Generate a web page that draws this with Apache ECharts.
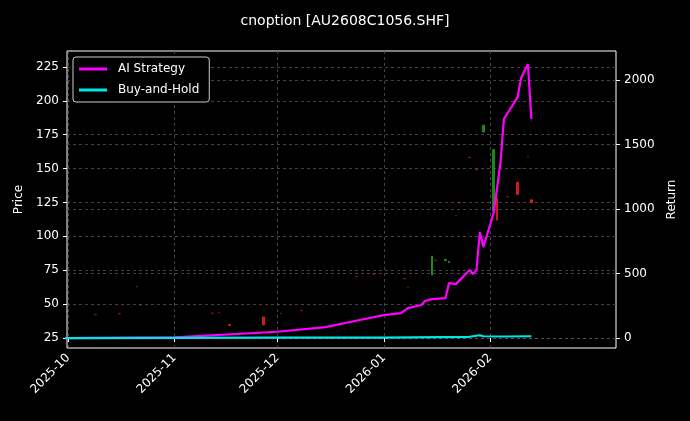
<!DOCTYPE html>
<html><head><meta charset="utf-8">
<script src="https://cdn.jsdelivr.net/npm/echarts@6/dist/echarts.min.js"></script>
<style>html,body{margin:0;background:#000}#c{width:690px;height:421px}</style>
</head><body><div id="c"></div>
<script>
const stratDates=['2025-09-30','2025-11-01','2025-12-01','2025-12-15','2025-12-25','2026-01-01','2026-01-06','2026-01-08','2026-01-12','2026-01-13','2026-01-15','2026-01-19','2026-01-20','2026-01-22','2026-01-26','2026-01-27','2026-01-28','2026-01-29','2026-01-30','2026-02-02','2026-02-04','2026-02-05','2026-02-09','2026-02-10','2026-02-12','2026-02-13'];
const stratValues=[0,5,49,85,140,178,194,232,256,287,302,310,426,418,527,496,527,822,705,969,1357,1698,1868,2015,2124,1698];
const bhDates=['2025-09-30','2025-11-01','2025-12-01','2026-01-01','2026-01-26','2026-01-29','2026-01-30','2026-02-05','2026-02-13'];
const bhValues=[0,2,3,4,10,22,14,12,14];
// visible candles: [date, open, close, low, high]
const candles=[
['2025-11-17',35,34.2,34.2,35],['2025-11-27',40.5,34.6,34.6,40.5],['2026-01-15',71.5,85.5,71.5,85.5],
['2026-01-19',82,83,82,83],['2026-01-20',80.5,81.5,80.5,81.5],['2026-01-30',177,182,177,182],['2026-02-02',119,164,119,164],
['2026-02-03',128,112,112,128],['2026-02-09',140,131,131,140],['2026-02-13',127,125,125,127]];
// faint (dim) candles: [date, open, close, low, high]
const faintCandles=[
['2025-10-09',42.5,42,42,42.5],['2025-10-16',43.2,42.7,42.7,43.2],['2025-10-21',63.2,62.6,62.6,63.2],['2025-10-22',49.6,49,49,49.6],
['2025-11-12',43.5,43,43,43.5],['2025-11-14',44,43.5,43.5,44],['2025-12-02',43.5,43,43,43.5],['2025-12-08',45.5,45,45,45.5],
['2025-12-24',70.5,70,70,70.5],['2025-12-29',72.5,72,72,72.5],['2026-01-07',69,68.5,68.5,69],['2026-01-08',62.5,62,62,62.5],
['2026-01-16',82.5,82,82,82.5],['2026-01-22',115.5,115,115,115.5],['2026-01-23',125.2,124.6,124.6,125.2],['2026-01-26',158.6,158,158,158.6],
['2026-01-28',149.5,149,149,149.5],['2026-02-06',129.5,129,129,129.5],['2026-02-10',150.5,150,150,150.5],['2026-02-12',159.2,158.6,158.6,159.2]];
const priceTicks=[25,50,75,100,125,150,175,200,225];
const returnTicks=[0,500,1000,1500,2000];
const monthTicks=['2025-10-01','2025-11-01','2025-12-01','2026-01-01','2026-02-01'];

const F='DejaVu Sans';
const ts=d=>Date.UTC(+d.slice(0,4),+d.slice(5,7)-1,+d.slice(8,10));
const gridLine={show:true,lineStyle:{color:'#555',type:[3,3],width:0.8}};
const chart=echarts.init(document.getElementById('c'));
const cs=(o)=>({color:'#1f9a1f',color0:'#e8201a',borderColor:'#1f9a1f',borderColor0:'#e8201a',borderWidth:1,opacity:o});
chart.setOption({
backgroundColor:'#000',animation:false,
title:{text:'cnoption [AU2608C1056.SHF]',left:'center',top:9,textStyle:{color:'#fff',fontFamily:F,fontSize:14,fontWeight:'normal'}},
grid:{left:67,right:74,top:51,bottom:73,show:true,borderColor:'#fff',borderWidth:1,backgroundColor:'transparent'},
legend:{left:73,top:57,orient:'vertical',itemGap:9,itemWidth:28,itemHeight:3,padding:[6,10,6,6],borderColor:'#ccc',borderWidth:1,borderRadius:3,backgroundColor:'#000',
 textStyle:{color:'#fff',fontFamily:F,fontSize:12,padding:[0,0,0,6]},data:[{name:'AI Strategy',icon:'rect'},{name:'Buy-and-Hold',icon:'rect'}]},
xAxis:{type:'value',min:ts('2025-09-30')+16*3600e3,max:ts('2026-03-09')+16*3600e3,
 axisLine:{show:false},axisTick:{show:true,lineStyle:{color:'#fff'},length:4,customValues:monthTicks.map(ts)},
 axisLabel:{color:'#fff',fontFamily:F,fontSize:12,rotate:45,customValues:monthTicks.map(ts),formatter:v=>{const d=new Date(v);return d.getUTCFullYear()+'-'+String(d.getUTCMonth()+1).padStart(2,'0');}},
 splitLine:gridLine},
yAxis:[
 {type:'value',name:'Price',nameLocation:'middle',nameGap:38,nameTextStyle:{color:'#fff',fontFamily:F,fontSize:12},min:17.6,max:236.8,
  axisLine:{show:false},axisTick:{show:true,length:4,lineStyle:{color:'#fff'},customValues:priceTicks},
  axisLabel:{color:'#fff',fontFamily:F,fontSize:12,customValues:priceTicks},splitLine:gridLine},
 {type:'value',name:'Return',nameLocation:'middle',nameGap:44,nameRotate:90,nameTextStyle:{color:'#fff',fontFamily:F,fontSize:12},min:-77,max:2225,position:'right',
  axisLine:{show:false},axisTick:{show:true,length:4,lineStyle:{color:'#fff'},customValues:returnTicks},
  axisLabel:{color:'#fff',fontFamily:F,fontSize:12,customValues:returnTicks,formatter:v=>String(v)},splitLine:gridLine}],
series:[
 {type:'candlestick',yAxisIndex:0,barWidth:2,data:faintCandles.map(c=>[ts(c[0]),c[1],c[2],c[3],c[4]]),itemStyle:cs(0.4)},
 {type:'candlestick',yAxisIndex:0,barWidth:2,data:candles.map(c=>[ts(c[0]),c[1],c[2],c[3],c[4]]),itemStyle:cs(0.85)},
 {name:'AI Strategy',type:'line',yAxisIndex:1,symbol:'none',data:stratDates.map((d,i)=>[ts(d),stratValues[i]]),lineStyle:{color:'#ff00ff',width:2.2},itemStyle:{color:'#ff00ff'}},
 {name:'Buy-and-Hold',type:'line',yAxisIndex:1,symbol:'none',data:bhDates.map((d,i)=>[ts(d),bhValues[i]]),lineStyle:{color:'#00e5e5',width:2.2},itemStyle:{color:'#00e5e5'}}
]});
</script></body></html>
